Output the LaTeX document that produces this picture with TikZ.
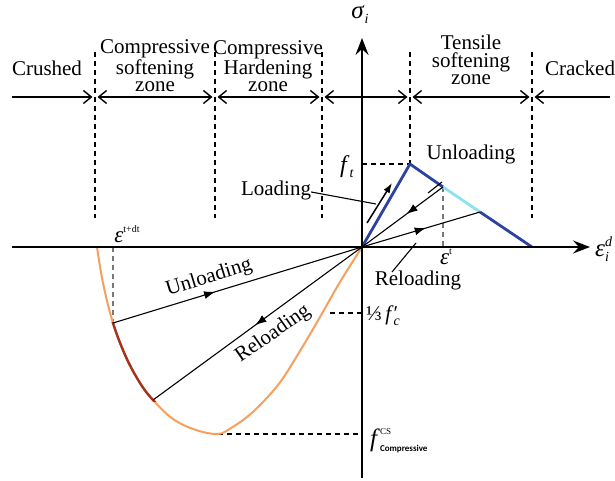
\documentclass[tikz,border=0pt]{standalone}
\usepackage{fontspec}
\setmainfont{Liberation Serif}
\newfontfamily\carlito{Carlito}
\usetikzlibrary{arrows.meta,decorations.markings}
\definecolor{tblue}{RGB}{45,65,160}
\definecolor{tcyan}{RGB}{140,225,240}
\definecolor{corange}{RGB}{245,160,95}
\definecolor{cred}{RGB}{165,50,30}
\definecolor{gguide}{RGB}{120,120,120}
\newcommand\supx[2][10]{\raisebox{10pt}{\fontsize{#1}{#1}\selectfont #2}}
\newcommand\subx[2][12]{\raisebox{-5pt}{\fontsize{#1}{#1}\selectfont #2}}
\tikzset{zbarb/.tip={Straight Barb[length=8pt,width=13pt,line width=1.4pt]}}
\begin{document}
\begin{tikzpicture}[x=1pt,y=-1pt,
  lbl/.style={font=\fontsize{21}{17.5}\selectfont, inner sep=0pt, align=center},
  axisarr/.style={line width=2pt, -{Stealth[length=17pt,width=13pt,inset=6pt]}},
  zonearr/.style={line width=1.4pt, shorten >=2.5pt, shorten <=2.5pt},
  zoneline/.style={line width=1.1pt, dash pattern=on 5pt off 4pt},
  guide/.style={line width=1.1pt, dash pattern=on 5pt off 4pt},
  thin/.style={line width=1.1pt},
  bluel/.style={tblue, line width=2.8pt, line join=round},
  midarrow/.style={postaction={decorate}, decoration={markings,
     mark=at position #1 with {\arrow{Latex[length=11pt,width=8pt]}}}},
]
\useasboundingbox (0,0) rectangle (615,481);

% key coordinates
\coordinate (O) at (362,247);
\coordinate (ytop) at (362,38);
\coordinate (ybot) at (362,478);
\coordinate (xl) at (12,247);
\coordinate (xr) at (590,247);
\coordinate (peak) at (410,164);
\coordinate (et) at (443,187);
\coordinate (eb) at (480,212);
\coordinate (tend) at (532,247);
\coordinate (cA) at (113,323);
\coordinate (cB) at (153,400);
\coordinate (cmin) at (218,434);

% zone boundaries
\coordinate (z0) at (12,97);
\coordinate (z1) at (95,97);
\coordinate (z2) at (215,97);
\coordinate (z3) at (322,97);
\coordinate (z4) at (410,97);
\coordinate (z5) at (532,97);
\coordinate (z6) at (610,97);

% dashed zone lines
\draw[zoneline] (95,52) -- (95,218);
\draw[zoneline] (215,52) -- (215,218);
\draw[zoneline] (322,52) -- (322,218);
\draw[zoneline] (410,52) -- (peak);
\draw[zoneline] (532,52) -- (532,218);

% zone arrows
\draw[zonearr,-zbarb,shorten <=0pt] (z0) -- (z1);
\draw[zonearr,zbarb-zbarb] (z1) -- (z2);
\draw[zonearr,zbarb-zbarb] (z2) -- (z3);
\draw[zonearr,zbarb-zbarb] (z3) -- (z4);
\draw[zonearr,zbarb-zbarb] (z4) -- (z5);
\draw[zonearr,-zbarb,shorten <=0pt] (z6) -- (z5);

% zone texts
\node[lbl] (crushed) at (47,68) {Crushed};
\node[lbl] (csoft) at (155,66) {Compressive\\softening\\zone};
\node[lbl] (chard) at (268,66) {Compressive\\Hardening\\zone};
\node[lbl] (tsoft) at (471,60) {Tensile\\softening\\zone};
\node[lbl] (cracked) at (580,68) {Cracked};

% guides
\draw[guide] (O |- peak) -- (peak);
\draw[guide,gguide] (et) -- (et |- O);
\draw[guide,gguide] (113,247) -- (cA);
\draw[guide] (330,313) -- (362,313);
\draw[guide] (cmin) -- (O |- cmin);

% compressive curve
\draw[corange, line width=2pt] plot[smooth,tension=0.6] coordinates {(97,247) (103,283) (113,323) (126,357) (140,383) (153,400) (173,419) (196,430) (218,434) (231,428) (247,417) (263,402) (281,381) (300,351) (320,317) (340,282) (362,247)};
\begin{scope}
\clip (100,322) rectangle (160,401);
\draw[cred, line width=2.4pt] plot[smooth,tension=0.6] coordinates {(97,247) (103,283) (113,323) (126,357) (140,383) (153,400) (173,419) (196,430) (218,434) (231,428)};
\end{scope}

% tensile curve
\draw[bluel] (O) -- (peak) -- (et);
\draw[tcyan, line width=2.8pt] (et) -- (eb);
\draw[bluel] (eb) -- (tend);

% unloading / reloading lines
\draw[thin, midarrow=0.45] (et) -- (O);
\draw[thin, midarrow=0.54] (O) -- (eb);
\draw[thin, midarrow=0.41] (cA) -- (O);
\draw[thin, midarrow=0.51] (O) -- (cB);

% loading arrow
\coordinate (la1) at (367,223);
\coordinate (la2) at (392,183);
\draw[line width=1.5pt, -{Latex[length=10pt,width=7pt]}] (la1) -- (la2);

% axes
\draw[axisarr] (xl) -- (xr);
\draw[axisarr] (ybot) -- (ytop);

% labels with leaders
\node[lbl] (loadl) at (276,190) {Loading};
\coordinate (loadp) at (376,204);
\draw[thin] (loadl.east) ++(0,2) -- (loadp);

\node[lbl] (unl) at (471,154) {Unloading};
\coordinate (unp1) at (428,193);
\coordinate (unp2) at (442,182);
\draw[thin] (unp1) -- (unp2);

\node[lbl] (rel) at (418,280) {Reloading};
\coordinate (rep1) at (392,272);
\coordinate (rep2) at (416,243);
\draw[thin] (rep1) -- (rep2);

\node[lbl, rotate=17] (cunl) at (209,278) {Unloading};
\node[lbl, rotate=35] (crel) at (273,334) {Reloading};

% math labels
\node[lbl, font=\fontsize{25}{25}\selectfont] (sig) at (360,15) {\textit{σ}\subx[14]{\textit{i}}};
\node[lbl, anchor=west, font=\fontsize{25}{25}\selectfont] (epsd) at (595,249) {\textit{ε}\makebox[0pt][l]{\supx[14]{\textit{d}}}\subx[14]{\textit{i}}};
\node[lbl, font=\fontsize{24}{24}\selectfont] (ft) at (347,167) {\textit{f}\subx[14]{\textit{t}}};
\node[lbl, font=\fontsize{23}{23}\selectfont] (epst) at (446,257) {\textit{ε}\supx{t}};
\node[lbl, font=\fontsize{23}{23}\selectfont] (epstdt) at (127,234) {\textit{ε}\supx{t+dt}};
\node[lbl, anchor=west] (fc) at (366,316) {⅓\,\textit{f}\makebox[0pt][l]{′}\subx[14]{\textit{c}}};
\node[lbl, anchor=base west, font=\fontsize{25}{25}\selectfont] (fcs) at (370,446) {\textit{f}\makebox[0pt][l]{\raisebox{12pt}{\fontsize{9}{9}\selectfont CS}}\raisebox{-5pt}{\fontsize{9}{9}\selectfont\carlito\bfseries Compressive}};
\end{tikzpicture}
\end{document}
